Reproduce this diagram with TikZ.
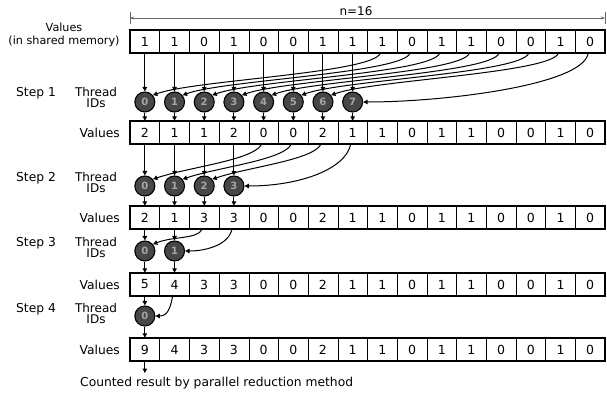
\documentclass[tikz,border=0pt]{standalone}
\usepackage{fontspec}
\setmainfont{DejaVu Sans}
\usetikzlibrary{arrows.meta,calc}
\begin{document}
\begin{tikzpicture}[x=1pt,y=-1pt,
  cell/.style={draw,line width=0.5pt,minimum width=29.6875pt,minimum height=23pt,inner sep=0pt,
    font=\fontsize{12.5}{12.5}\selectfont},
  rowframe/.style={draw,line width=1.6pt},
  thread/.style={circle,draw,line width=1.1pt,fill=black!72,minimum size=20pt,inner sep=0pt,
    text=black!35,font=\fontsize{10}{10}\selectfont\bfseries},
  lbl/.style={font=\fontsize{12.3}{12.5}\selectfont,inner sep=0pt},
  tip/.style={-{Triangle[length=4.5pt,width=4.5pt]},line width=1pt},
  dim/.style={draw=black!60,line width=0.5pt}]
\useasboundingbox (0,0) rectangle (607,394);

% curved read from a cell into a thread: #1 cell, #2 thread anchor, #3/#4 offsets of the two controls
\newcommand\readcurve[4]{%
  \draw[tip] ([xshift=-2pt]#1.south) .. controls ($([xshift=-2pt]#1.south)+(#3)$) and ($(#2)+(#4)$) .. (#2);}

% value rows: top edge y and contents
\def\rowtop#1{\ifcase#1 30\or 121\or 206\or 273\or 338\fi}
\foreach \r/\vals in {0/{1,1,0,1,0,0,1,1,1,0,1,1,0,0,1,0},
                      1/{2,1,1,2,0,0,2,1,1,0,1,1,0,0,1,0},
                      2/{2,1,3,3,0,0,2,1,1,0,1,1,0,0,1,0},
                      3/{5,4,3,3,0,0,2,1,1,0,1,1,0,0,1,0},
                      4/{9,4,3,3,0,0,2,1,1,0,1,1,0,0,1,0}}{
  \pgfmathsetmacro\yc{\rowtop{\r}+11.5}
  \foreach \v [count=\i from 0] in \vals {
    \node[cell] (r\r c\i) at ({130+(\i+0.5)*29.6875},\yc) {\v};
  }
  \draw[rowframe] (r\r c0.north west) rectangle (r\r c15.south east);
}

% thread circles for each step
\foreach \s/\n/\y in {1/8/102,2/4/186,3/2/251,4/1/316}{
  \foreach \i in {1,...,\n}{
    \pgfmathtruncatemacro\k{\i-1}
    \node[thread] (t\s n\k) at ({130+(\k+0.5)*29.6875},\y) {\k};
  }
}

% dimension line over the first row
\coordinate (dl) at (130,18);
\coordinate (dr) at (605,18);
\draw[dim] (130,12) -- (130,24);
\draw[dim] (605,12) -- (605,24);
\draw[dim,{Stealth[length=4pt,width=3pt]}-{Stealth[length=4pt,width=3pt]}] (dl) -- (dr);
\node[font=\fontsize{12}{12}\selectfont,fill=white,inner xsep=2pt,inner ysep=0pt] (nlab) at (356,11) {n=16};

% left-hand labels
\node[lbl,align=center,font=\fontsize{11.2}{12.5}\selectfont] (vlab0) at (64,35) {Values\\(in shared memory)};
\foreach \r in {1,...,4}{
  \node[lbl,anchor=east] (vlab\r) at (120,{\rowtop{\r}+11.5}) {Values};
}
\foreach \s/\y in {1/92,2/177,3/242,4/308}{
  \node[lbl,anchor=base] (step\s) at (36,\y+4) {Step \s};
  \node[lbl,align=center,anchor=north,font=\fontsize{12}{11}\selectfont] (tid\s) at (96,\y-5) {Thread\\IDs};
}

% step 1: straight reads and strided reads
\foreach \k in {0,...,7}{
  \pgfmathtruncatemacro\m{\k+8}
  \draw[tip] (r0c\k.south) -- (t1n\k.north);
  \draw[tip] (t1n\k.south) -- (r1c\k.north);
  \ifnum\k<7
    \readcurve{r0c\m}{t1n\k.40}{-8,20}{40,-15}
  \else
    \readcurve{r0c\m}{t1n\k.east}{-5,32}{80,0}
  \fi
}
% step 2
\foreach \k in {0,...,3}{
  \pgfmathtruncatemacro\m{\k+4}
  \draw[tip] (r1c\k.south) -- (t2n\k.north);
  \draw[tip] (t2n\k.south) -- (r2c\k.north);
  \ifnum\k<3
    \readcurve{r1c\m}{t2n\k.40}{-8,16}{35,-12}
  \else
    \readcurve{r1c\m}{t2n\k.east}{-5,25}{55,0}
  \fi
}
% step 3
\foreach \k in {0,1}{
  \draw[tip] (r2c\k.south) -- (t3n\k.north);
  \draw[tip] (t3n\k.south) -- (r3c\k.north);
}
\readcurve{r2c2}{t3n0.40}{-5,10}{20,-8}
\readcurve{r2c3}{t3n1.east}{-3,15}{22,0}
% step 4
\draw[tip] (r3c0.south) -- (t4n0.north);
\draw[tip] (t4n0.south) -- (r4c0.north);
\readcurve{r3c1}{t4n0.east}{-2,12}{12,0}

% final result
\coordinate (res) at ({130+0.5*29.6875},373);
\draw[tip] (r4c0.south) -- (res);
\node[lbl,anchor=west] (reslab) at (80,383) {Counted result by parallel reduction method};
\end{tikzpicture}
\end{document}
